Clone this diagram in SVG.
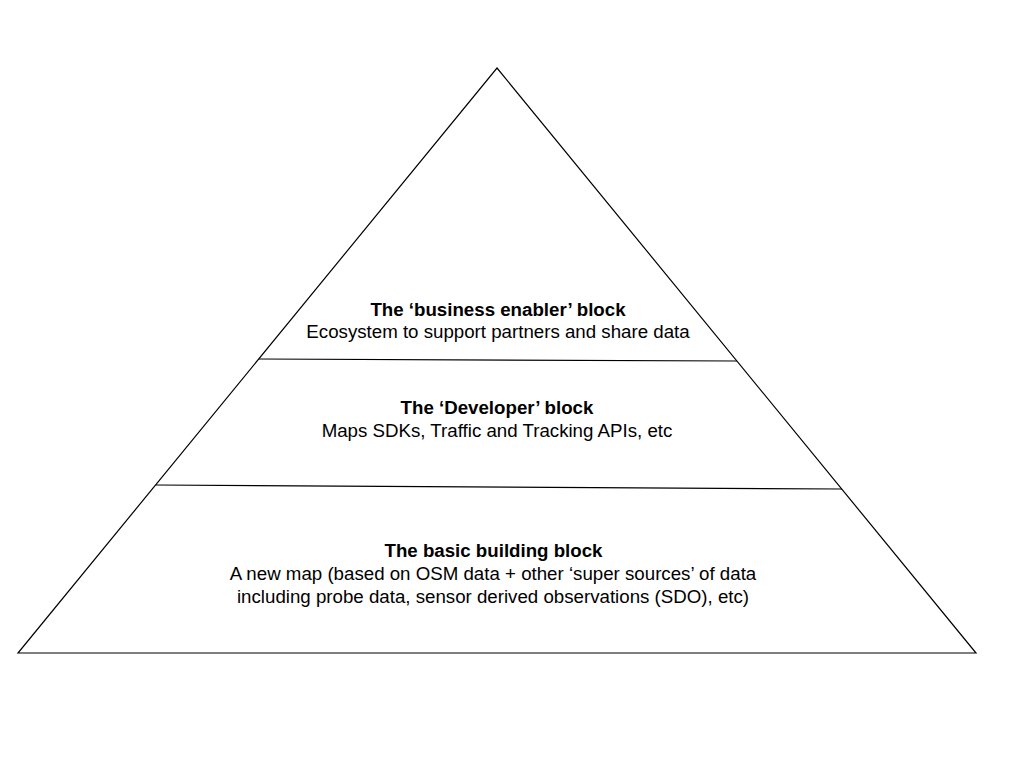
<svg xmlns="http://www.w3.org/2000/svg" width="1024" height="768" viewBox="0 0 1024 768">
<style>
.ln{stroke:#000;stroke-width:1.2;fill:none}
text{font-family:"Liberation Sans",Arial,sans-serif;font-size:18.7px;fill:#000;text-anchor:middle}
.b{font-weight:bold}
</style>
<rect width="1024" height="768" fill="#fff"/>
<g id="pyramid">
<polygon class="ln" points="497,68 976,653 18,653"/>
</g>
<g id="connectors">
<line class="ln" x1="259" y1="359" x2="737" y2="361"/>
<line class="ln" x1="156" y1="485" x2="842" y2="489"/>
</g>
<g id="business-enabler">
<text class="b" x="498" y="316">The ‘business enabler’ block</text>
<text x="498" y="338">Ecosystem to support partners and share data</text>
</g>
<g id="developer">
<text class="b" x="497" y="414">The ‘Developer’ block</text>
<text x="497" y="437">Maps SDKs, Traffic and Tracking APIs, etc</text>
</g>
<g id="basic">
<text class="b" x="493.5" y="557">The basic building block</text>
<text x="493" y="580">A new map (based on OSM data + other ‘super sources’ of data</text>
<text x="493" y="603">including probe data, sensor derived observations (SDO), etc)</text>
</g>
</svg>
